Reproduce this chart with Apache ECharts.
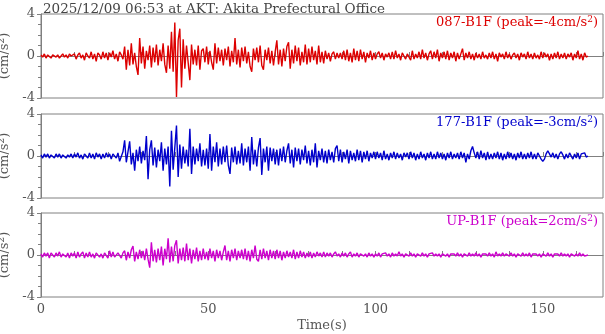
<!DOCTYPE html>
<html><head><meta charset="utf-8">
<script src="https://cdn.jsdelivr.net/npm/echarts@6/dist/echarts.min.js"></script>
<style>html,body{margin:0;padding:0;background:#fff}#c{width:605px;height:334px}</style>
</head><body><div id="c"></div>
<script>
var titleText = '2025/12/09 06:53 at AKT: Akita Prefectural Office';
var channelNames = ['087-B1F', '177-B1F', 'UP-B1F'];
var peakValues = ['-4', '-3', '2'];
var sampleStep = 0.5; // seconds between samples
var xTickLabels = [0, 50, 100, 150];
var yTickLabels = [-4, 0, 4];

var ch087 = [
0.1,-0.1,0.2,-0.2,0.1,0.0,-0.2,0.1,0.2,-0.1,
0.1,-0.2,0.0,0.2,-0.1,0.1,-0.2,0.2,0.0,-0.1,
0.2,-0.3,0.1,0.3,-0.2,0.1,-0.4,0.3,0.0,-0.2,
0.4,-0.3,0.2,-0.5,0.3,0.1,-0.3,0.4,-0.2,0.3,
-0.4,0.3,-0.1,0.5,-0.3,0.2,-0.5,0.4,0.1,-0.3,
0.9,-1.3,0.6,-0.9,1.2,-0.8,0.3,-1.0,-1.8,1.7,
-0.7,0.9,-1.2,0.5,-0.4,1.0,-1.1,0.8,-0.6,1.1,
-0.9,0.6,-0.5,1.2,-0.8,-1.6,1.0,-1.2,2.3,-1.5,
3.2,-3.9,1.5,2.6,-3.0,1.6,-1.2,1.0,0.9,-2.3,
1.1,-0.8,0.6,-0.9,1.0,-1.3,0.5,0.7,-0.6,0.9,
-0.8,0.5,-0.6,-1.3,1.2,-0.7,0.8,-0.5,0.6,-0.9,
0.7,-0.4,0.9,-1.0,0.5,-0.6,1.7,-0.8,0.6,-1.1,
0.8,-0.5,0.9,-0.7,0.4,-1.0,-1.5,0.7,-0.4,0.8,
-0.6,1.0,-0.9,-1.3,0.6,-0.4,0.8,-0.7,0.5,-0.9,
0.4,1.5,-0.8,0.6,-1.0,0.7,-0.5,0.9,1.3,-1.2,
0.6,-0.7,1.0,-0.5,0.8,-0.9,0.4,-0.6,1.1,-0.8,
0.7,-0.6,0.9,-0.4,0.5,-0.8,1.0,-0.6,0.4,-0.7,
0.5,-0.3,0.3,-0.5,0.2,0.4,-0.3,0.3,-0.2,0.3,
-0.3,0.5,-0.4,0.6,-0.5,0.3,-0.6,0.7,-0.4,0.5,
-0.5,0.6,-0.3,0.4,-0.6,0.3,-0.2,0.5,-0.4,0.3,
-0.3,0.2,0.4,-0.2,0.3,-0.4,0.2,-0.1,0.3,-0.3,
0.4,-0.3,0.5,-0.2,0.2,-0.4,0.3,0.0,-0.3,0.2,
0.3,-0.4,0.5,-0.3,0.2,-0.2,0.4,-0.3,0.6,-0.2,
0.3,-0.4,0.2,0.5,-0.3,0.4,-0.2,0.6,-0.5,0.3,
-0.2,0.4,-0.3,0.5,-0.4,0.3,-0.2,0.4,-0.5,0.3,
-0.3,0.2,0.7,-0.4,0.3,-0.2,0.4,-0.3,0.2,-0.4,
0.3,-0.2,0.2,-0.3,0.4,-0.2,0.1,-0.3,0.3,-0.2,
0.4,-0.3,0.2,-0.5,0.3,-0.1,0.2,-0.3,0.4,-0.2,
0.2,-0.3,0.1,0.3,-0.2,0.2,-0.4,0.3,-0.1,0.2,
-0.3,0.4,-0.2,0.2,-0.3,0.3,-0.2,0.1,-0.3,0.4,
-0.2,0.3,-0.1,0.2,-0.4,0.2,-0.3,0.3,-0.2,0.4,
-0.3,0.2,-0.2,0.3,-0.3,0.2,-0.1,0.3,-0.4,0.2,
-0.2,0.5,-0.3,0.2,-0.4,0.3,-0.1,0.0
];

var ch177 = [
0.1,-0.2,0.2,-0.1,0.2,-0.2,0.1,0.0,-0.2,0.2,
-0.1,0.2,-0.2,0.1,0.2,-0.2,0.1,-0.1,0.2,-0.2,
0.2,-0.1,0.3,-0.2,0.1,-0.3,0.2,0.0,-0.2,0.3,
-0.2,0.2,-0.3,0.3,-0.1,0.2,-0.3,0.2,-0.2,0.3,
-0.1,0.2,-0.3,0.2,0.1,-0.2,0.3,-0.5,-0.6,0.4,
1.5,-0.6,0.4,1.4,-0.8,0.3,-1.4,0.6,-0.5,0.9,
-0.7,0.5,-0.4,1.9,-2.2,0.6,1.5,-0.9,0.8,-1.1,
0.6,-0.5,1.3,-1.4,0.7,-0.8,0.9,-2.9,2.4,-1.3,
0.8,2.9,-2.0,1.1,-1.2,0.9,-0.7,0.6,-1.0,2.6,
-1.7,0.9,-0.8,0.7,-0.5,1.2,-1.0,0.6,-0.9,0.7,
-1.2,2.1,-1.4,0.9,-0.6,1.3,-1.0,0.7,-0.8,0.9,
-0.6,1.0,-0.9,-1.7,0.8,-0.6,0.9,-0.8,0.5,-0.7,
1.2,-0.9,0.7,-0.6,0.9,-1.4,1.8,-0.8,0.6,-1.0,
0.8,1.7,-1.8,0.7,-0.6,0.9,-1.4,0.8,-0.5,0.7,
-0.8,0.6,-0.9,0.7,-0.5,0.9,-0.6,0.5,1.2,-0.7,
0.6,-1.1,0.8,-0.5,0.7,-0.8,0.6,-0.4,1.0,-0.7,
0.5,-0.9,0.6,-0.6,1.2,-1.1,0.5,-0.4,0.7,-0.6,
0.5,-0.7,0.6,-0.4,0.4,-0.6,0.7,1.0,-0.5,0.6,
-0.6,0.4,-0.3,0.6,-0.7,0.5,-0.4,0.3,-0.5,0.6,
-0.4,0.5,-0.6,0.4,-0.3,0.5,-0.5,0.3,-0.2,0.4,
-0.3,0.4,-0.2,0.3,-0.4,0.5,-0.3,0.2,-0.4,0.3,
-0.2,0.4,-0.3,0.3,-0.2,0.2,-0.4,0.3,-0.1,0.3,
-0.3,0.4,-0.2,0.3,-0.4,0.2,-0.3,0.4,-0.2,0.2,
-0.4,0.3,-0.2,0.4,-0.3,0.2,-0.3,0.4,-0.2,0.3,
-0.3,0.2,-0.4,0.3,-0.2,0.4,-0.3,0.2,-0.2,0.3,
-0.3,0.4,-0.2,0.3,-0.6,0.2,-0.3,0.5,0.9,0.3,
-0.2,0.4,-0.3,0.5,-0.2,0.3,-0.4,0.4,-0.3,0.2,
-0.3,0.3,-0.2,0.4,-0.3,0.3,-0.4,0.2,-0.3,0.4,
-0.2,0.3,-0.3,0.2,-0.4,0.3,-0.2,0.4,-0.3,0.2,
-0.3,0.3,-0.2,0.4,-0.3,0.2,-0.3,0.3,0.0,-0.3,
-0.5,-0.3,0.2,0.5,0.2,-0.1,0.3,-0.2,0.2,-0.3,
0.2,0.4,0.1,-0.3,0.2,-0.2,0.3,0.4,-0.3,0.2,
-0.2,0.3,-0.3,0.2,0.1,0.3,-0.1,0.0
];

var chUP = [
0.1,-0.2,0.2,-0.1,0.2,-0.3,0.2,0.0,-0.2,0.2,
-0.1,0.3,-0.2,0.1,0.2,-0.2,0.2,-0.3,0.2,-0.1,
0.2,-0.3,0.3,-0.2,0.1,0.3,-0.3,0.2,-0.2,0.3,
-0.2,0.1,-0.3,0.2,0.3,-0.2,0.1,-0.3,0.2,0.2,
-0.3,0.4,-0.2,0.3,-0.2,-0.3,0.2,0.1,-0.3,0.2,
0.4,-0.5,0.3,-0.3,0.5,0.85,-0.6,0.3,-0.4,0.5,
-0.3,0.4,-0.5,0.6,-0.4,-1.2,1.2,-0.6,0.5,-0.7,
0.6,-0.5,0.8,-1.0,0.6,-0.4,1.6,-0.7,0.8,-0.6,
0.9,1.4,-0.8,0.6,-0.5,0.7,-0.6,1.1,-0.5,0.6,
-0.8,0.5,-0.4,0.7,-0.6,0.4,-0.5,0.6,-0.4,0.3,
-0.5,0.6,-0.3,0.4,-0.6,0.5,-0.3,0.4,-0.5,0.3,
0.9,-0.5,0.4,-0.6,0.5,-0.3,0.6,-0.5,0.4,-0.3,
0.5,-0.4,0.6,-0.5,0.4,-0.6,0.5,-0.3,0.9,-0.4,
-0.6,0.5,-0.4,0.6,-0.3,0.4,-0.5,0.5,-0.3,0.4,
-0.4,0.5,-0.3,0.4,-0.5,0.3,-0.3,0.4,-0.2,0.3,
-0.3,0.5,-0.4,0.3,-0.3,0.4,-0.2,0.3,-0.3,0.2,
-0.2,0.3,-0.3,0.2,-0.2,0.3,-0.1,0.2,-0.2,0.3,
-0.2,0.2,-0.1,0.2,-0.2,0.1,0.3,-0.1,0.1,-0.2,
0.2,-0.1,0.2,-0.2,0.1,0.3,-0.2,0.1,-0.1,0.2,
-0.2,0.1,0.2,-0.1,0.1,-0.2,0.2,-0.1,0.1,-0.2,
0.1,-0.1,0.2,-0.2,0.1,0.0,0.2,-0.1,0.1,-0.2,
0.2,-0.1,0.1,-0.1,0.3,-0.1,0.1,-0.2,0.1,0.0,
-0.1,0.2,-0.1,0.1,-0.2,0.1,0.1,-0.1,0.2,-0.1,
0.1,-0.2,0.1,0.0,0.2,-0.1,0.1,-0.1,0.1,-0.2,
0.1,0.2,-0.1,0.1,-0.2,0.1,0.0,0.1,-0.1,0.2,
-0.1,0.1,-0.2,0.1,0.1,-0.1,0.2,-0.1,0.1,-0.1,
0.2,-0.1,0.1,-0.2,0.1,0.0,0.1,-0.1,0.2,-0.1,
0.1,-0.2,0.3,-0.1,0.1,-0.1,0.2,-0.1,0.1,0.0,
-0.1,0.2,-0.1,0.1,-0.2,0.1,0.1,-0.1,0.2,-0.1,
0.1,-0.1,0.2,-0.2,0.1,0.0,0.1,-0.1,0.1,-0.2,
0.1,0.1,-0.1,0.2,-0.1,0.1,-0.2,0.1,0.0,0.1,
-0.1,0.2,-0.1,0.1,-0.1,0.1,-0.2,0.1,0.1,-0.1,
0.1,-0.1,0.2,-0.1,0.1,-0.1,0.0,0.0
];

var seriesValues = [ch087, ch177, chUP];
var colors = ['#dd0000', '#0000cc', '#cc00cc'];
var FONT = '"DejaVu Serif", "Liberation Serif", serif';
var AX = '#808080';
var TXT = '#555555';
var FS = 13;

function toPairs(arr) { return arr.map(function (v, i) { return [i * sampleStep, v]; }); }

var gridTops = [14, 114, 213];
var grids = [], xAxes = [], yAxes = [], series = [], graphics = [];
for (var k = 0; k < 3; k++) {
  grids.push({ left: 41, top: gridTops[k], width: 562, height: 84, show: true,
    borderColor: AX, borderWidth: 1, backgroundColor: 'transparent',
    outerBoundsMode: 'none', containLabel: false });
  xAxes.push({
    type: 'value', gridIndex: k, min: 0, max: 168, interval: 10,
    axisLine: { show: true, lineStyle: { color: AX, width: 1 } },
    axisTick: { show: true, inside: true, length: 4, lineStyle: { color: AX } },
    splitLine: { show: false },
    axisLabel: {
      show: k === 2, margin: 6, color: TXT, fontFamily: FONT, fontSize: FS,
      showMaxLabel: false,
      formatter: function (v) { return xTickLabels.indexOf(v) >= 0 ? String(v) : ''; }
    },
    name: k === 2 ? 'Time(s)' : '', nameLocation: 'middle', nameGap: 22,
    nameTextStyle: { color: TXT, fontFamily: FONT, fontSize: FS }
  });
  yAxes.push({
    type: 'value', gridIndex: k, min: -4, max: 4, interval: 4,
    axisLine: { show: true, lineStyle: { color: AX, width: 1 } },
    axisTick: { show: true, inside: false, length: 4, lineStyle: { color: AX } },
    minorTick: { show: true, splitNumber: 4, length: 3, lineStyle: { color: AX } },
    splitLine: { show: false },
    axisLabel: { margin: 6, color: TXT, fontFamily: FONT, fontSize: FS,
      formatter: function (v) { return yTickLabels.indexOf(v) >= 0 ? String(v) : ''; } },
    name: '{n|(cm/s}{s|2}{n|)}', nameLocation: 'middle', nameGap: 21, nameRotate: 90,
    nameTextStyle: { color: TXT, fontFamily: FONT, fontSize: FS,
      rich: { n: { color: TXT, fontFamily: FONT, fontSize: FS },
              s: { color: TXT, fontFamily: FONT, fontSize: 9, padding: [0, 0, 7, 0] } } }
  });
  series.push({
    type: 'line', xAxisIndex: k, yAxisIndex: k, data: toPairs(seriesValues[k]),
    showSymbol: false, symbol: 'none', silent: true, animation: false,
    lineStyle: { color: colors[k], width: 1.4 }
  });
  graphics.push({
    type: 'text', right: 7, top: gridTops[k] + 1,
    style: {
      text: '{n|' + channelNames[k] + ' (peak=' + peakValues[k] + 'cm/s}{s|2}{n|)}',
      rich: { n: { fill: colors[k], fontFamily: FONT, fontSize: FS },
              s: { fill: colors[k], fontFamily: FONT, fontSize: 9, padding: [0, 0, 7, 0] } },
      fill: colors[k], font: FS + 'px ' + FONT
    }
  });
}

var chart = echarts.init(document.getElementById('c'), null, { renderer: 'canvas' });
chart.setOption({
  animation: false,
  backgroundColor: '#ffffff',
  title: { text: titleText, left: 38, top: -3,
    textStyle: { color: '#444444', fontFamily: FONT, fontSize: 13.5, fontWeight: 'normal' } },
  grid: grids, xAxis: xAxes, yAxis: yAxes, series: series, graphic: graphics
});
</script></body></html>
